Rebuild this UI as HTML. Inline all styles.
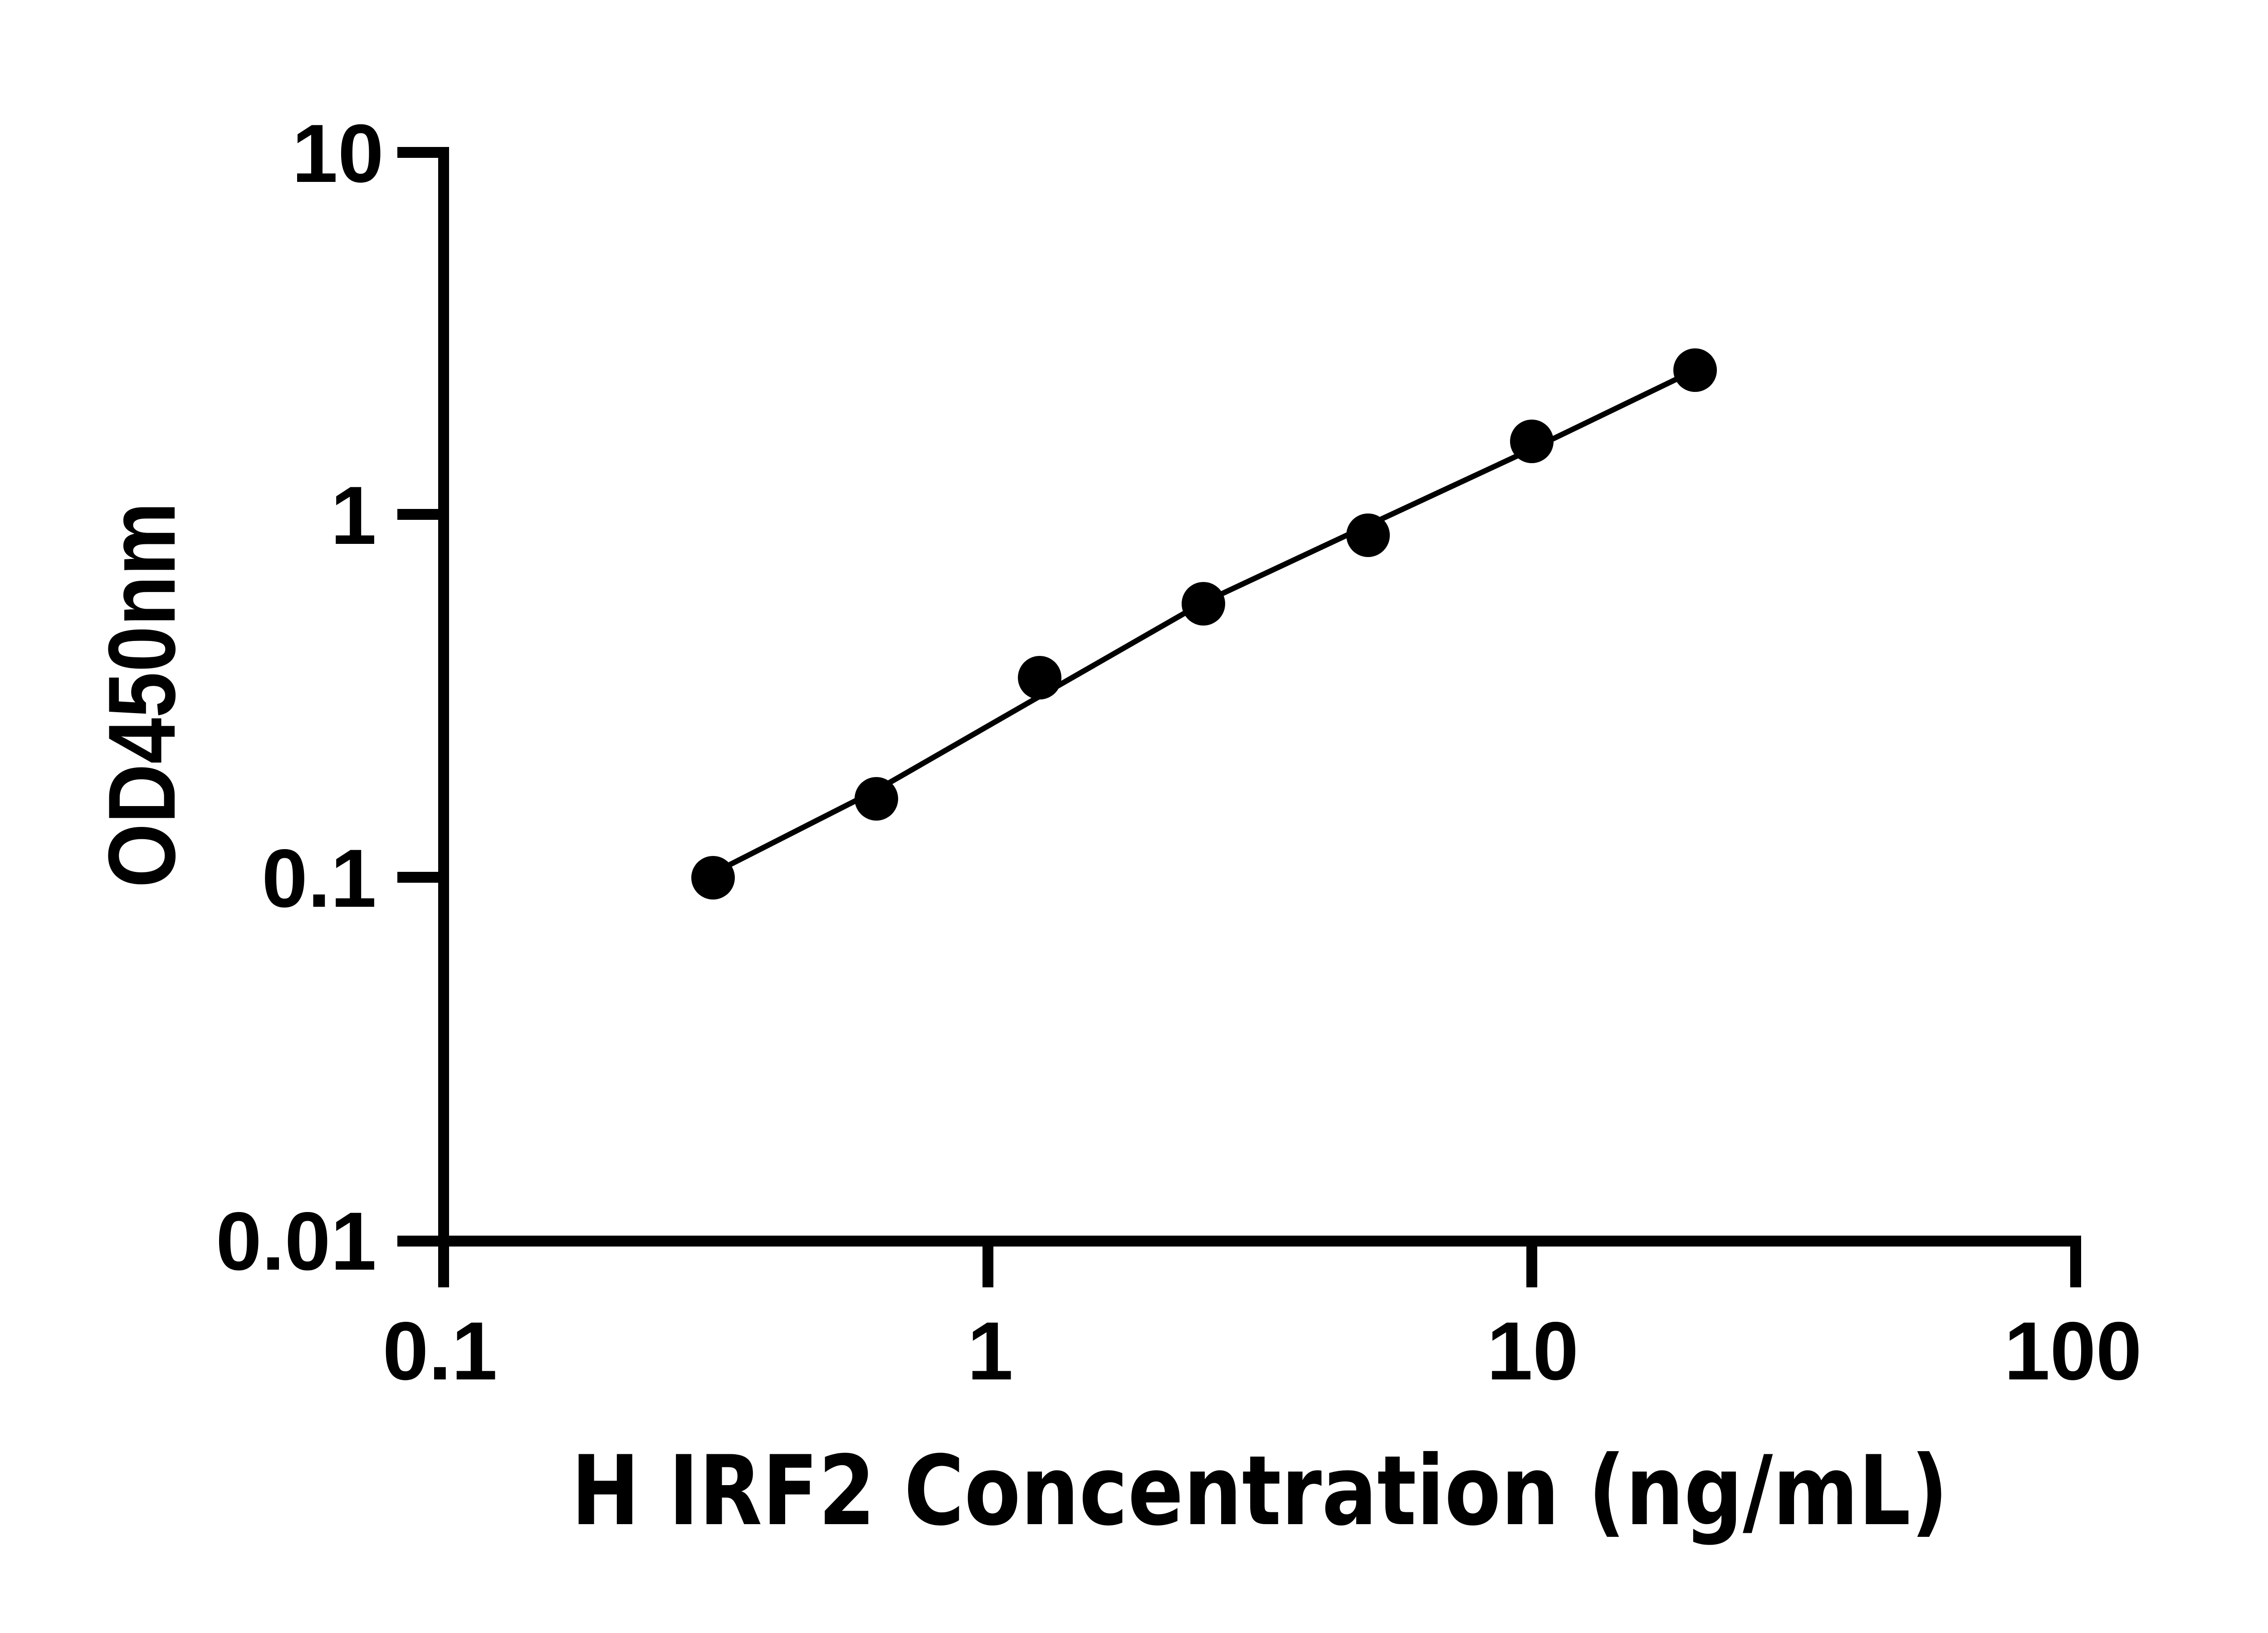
<!DOCTYPE html>
<html><head><meta charset="utf-8"><style>html,body{margin:0;padding:0;background:#fff}svg{display:block}
.t{font-family:"Liberation Sans",Arial,Helvetica,sans-serif;font-weight:bold}
.ti{font-family:"DejaVu Sans",sans-serif;font-weight:bold}</style></head>
<body>
<svg width="5130" height="3600" viewBox="0 0 5130 3600" xmlns="http://www.w3.org/2000/svg">
<rect width="5130" height="3600" fill="#fff"/>
<g stroke="#000" stroke-width="24" fill="none">
<line x1="978" y1="324" x2="978" y2="2838"/>
<line x1="876" y1="2736" x2="4588" y2="2736"/>
<line x1="876" y1="336" x2="978" y2="336"/>
<line x1="876" y1="1134" x2="978" y2="1134"/>
<line x1="876" y1="1934" x2="978" y2="1934"/>
<line x1="2178" y1="2736" x2="2178" y2="2838"/>
<line x1="3377" y1="2736" x2="3377" y2="2838"/>
<line x1="4576" y1="2736" x2="4576" y2="2838"/>
</g>
<polyline fill="none" stroke="#000" stroke-width="12" points="1572,1925 1932,1742 2292,1535 2653,1328 3016,1158 3377,990 3737,816"/>
<g fill="#000">
<circle cx="1572" cy="1935" r="48"/>
<circle cx="1932" cy="1761" r="48"/>
<circle cx="2292" cy="1494" r="48"/>
<circle cx="2653" cy="1331" r="48"/>
<circle cx="3016" cy="1180" r="48"/>
<circle cx="3377" cy="973" r="48"/>
<circle cx="3737" cy="816" r="48"/>
</g>
<g class="t" font-size="182" fill="#000">
<text x="846" y="401" text-anchor="end">10</text>
<text x="830" y="1199" text-anchor="end">1</text>
<text x="830" y="1999" text-anchor="end">0.1</text>
<text x="830" y="2799" text-anchor="end">0.01</text>
<text x="970" y="3041" text-anchor="middle">0.1</text>
<text x="2183" y="3041" text-anchor="middle">1</text>
<text x="3379" y="3041" text-anchor="middle">10</text>
<text x="4570" y="3041" text-anchor="middle">100</text>
<text transform="translate(385,1957) rotate(-90)" font-size="210" textLength="850" lengthAdjust="spacingAndGlyphs">OD450nm</text>
</g>
<text class="ti" x="1259" y="3360" font-size="212" textLength="3036" lengthAdjust="spacingAndGlyphs" fill="#000">H IRF2 Concentration (ng/mL)</text>
</svg>
</body></html>
